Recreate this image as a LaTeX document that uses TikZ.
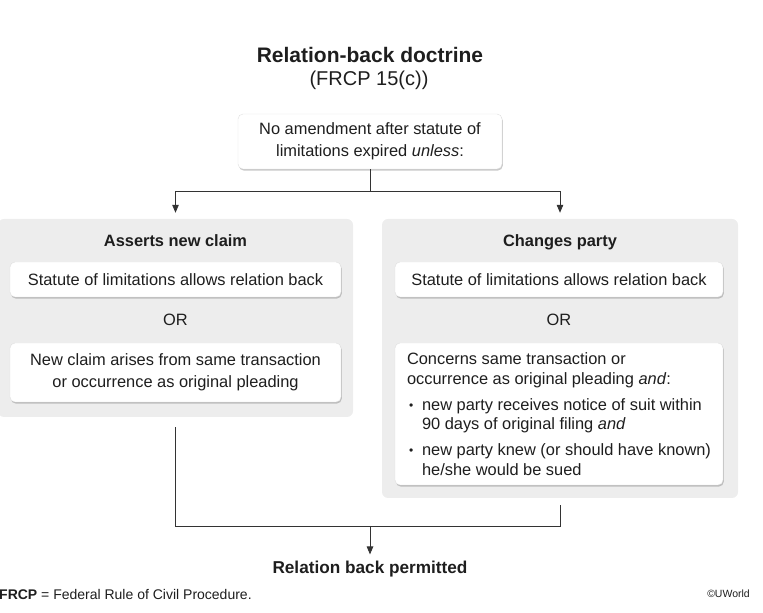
\documentclass[tikz,border=0pt]{standalone}
\usepackage{fontspec}
\setmainfont{Liberation Sans}
\usetikzlibrary{arrows.meta,shadows}
\definecolor{PanelGray}{HTML}{EDEDED}
\definecolor{LineGray}{HTML}{333333}
\definecolor{InkGray}{HTML}{1E1E1E}
\newcommand{\pbul}{\makebox[15pt][l]{\hspace{2pt}\raisebox{1pt}{\fontsize{12}{12}\selectfont\textbullet}}}

\begin{document}
\begin{tikzpicture}[x=1pt, y=1pt, every node/.style={font=\fontsize{16.4}{22.5}\selectfont, text=InkGray}, panel/.style={fill=PanelGray, rounded corners=6pt}, card/.style={draw=black!12, fill=white, rounded corners=5pt, drop shadow={shadow xshift=0.8pt, shadow yshift=-1.6pt, opacity=0.35, fill=black!60}, align=center, inner sep=0pt}, head/.style={font=\bfseries\fontsize{16.4}{20}\selectfont, anchor=base}, arr/.style={-{Triangle[length=8pt,width=6.5pt]}, LineGray, line width=0.9pt}, link/.style={LineGray, line width=0.9pt}]
\useasboundingbox (0,0) rectangle (763,613);
\node[font=\bfseries\fontsize{21}{24}\selectfont] (title) at (370,558) {Relation-back doctrine};
\node[font=\fontsize{20}{24}\selectfont] (sub) at (369,533) {(FRCP 15(c))};
\node[card, minimum width=264, minimum height=55] (rule) at (370,471.5) {No amendment after statute of\\limitations expired \textit{unless}:};
% the two branches
\node[panel, minimum width=355, minimum height=198] (claim) at (175.5,295) {};
\node[panel, minimum width=356, minimum height=279] (party) at (560,254.5) {};
\node[head] (claimhead) at (175.5,366) {Asserts new claim};
\node[head] (partyhead) at (560,366) {Changes party};
\node[card, minimum width=331, minimum height=35] (claimlaw) at (175.5,333.5) {Statute of limitations allows relation back};
\node (claimor) at (175.5,293) {OR};
\node[card, minimum width=331, minimum height=59] (claimfact) at (175.5,240.5) {New claim arises from same transaction\\or occurrence as original pleading};
\node[card, minimum width=328, minimum height=35] (partylaw) at (559,333.5) {Statute of limitations allows relation back};
\node (partyor) at (559,293) {OR};
\node[card, minimum width=328, minimum height=142, align=left, font=\fontsize{16.4}{19.5}\selectfont] (partyfact) at (559,199) {Concerns same transaction or\\occurrence as original pleading \textit{and}:\\[6.5pt]
\pbul new party receives notice of suit within\\
\hspace*{15pt}90 days of original filing \textit{and}\\[6.5pt]
\pbul new party knew (or should have known)\\
\hspace*{15pt}he/she would be sued};
% outcome
\node[font=\bfseries\fontsize{17.2}{20}\selectfont] (verdict) at (370,44) {Relation back permitted};
\node[anchor=west, font=\fontsize{14}{16}\selectfont, inner sep=0pt] (note) at (-1,19) {\textbf{FRCP} = Federal Rule of Civil Procedure.};
\node[anchor=east, font=\fontsize{10.5}{12}\selectfont, inner sep=0pt] (mark) at (750,19) {\textcopyright UWorld};
\coordinate (split) at (370,422);
\coordinate (merge) at (370,87);
\draw[link] (rule.south) -- (split);
\draw[arr] (split) -| ([yshift=6pt]claim.north);
\draw[arr] (split) -| ([yshift=6pt]party.north);
\draw[link] ([yshift=-10pt]claim.south) |- (merge);
\draw[link] ([yshift=-7pt]party.south) |- (merge);
\draw[arr, shorten >=3pt] (merge) -- (verdict.north);
\end{tikzpicture}
\end{document}
